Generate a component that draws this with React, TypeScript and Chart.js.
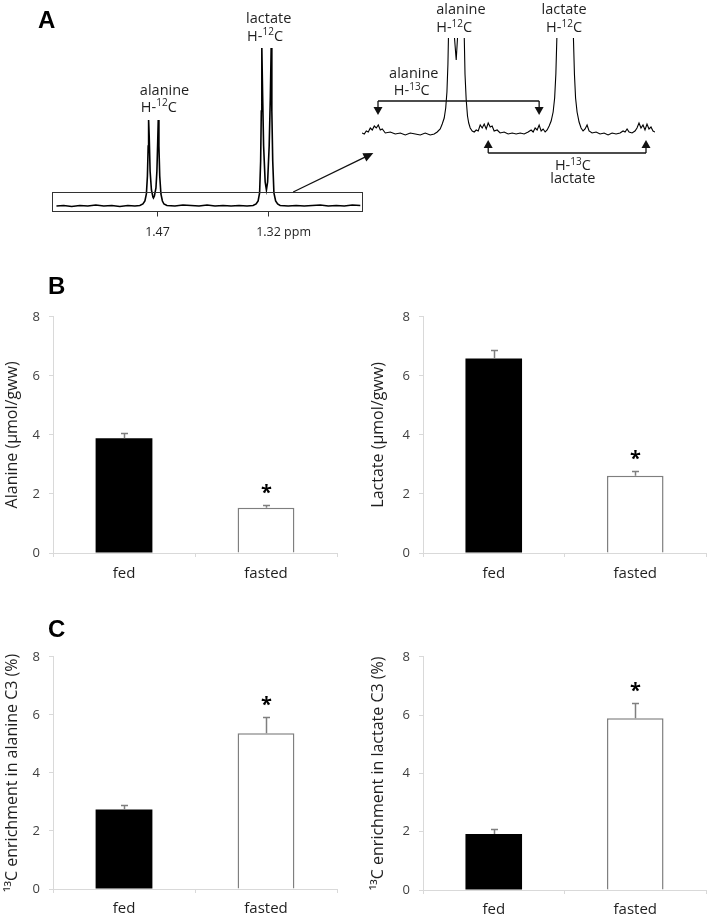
import React, { useEffect, useRef } from "react";
import { Chart, registerables } from "chart.js";

Chart.register(...registerables);

const FONT = "'Open Sans', 'DejaVu Sans', sans-serif";
const TEXT = "#1f1f1f";
const AXIS = "#d9d9d9";
const ERR = "#7f7f7f";

// ---------------- Panel A: 1H NMR spectrum (ppm, intensity) ----------------
const spectrumPpm = [
  1.6051, 1.5953, 1.5845, 1.5736, 1.5628, 1.552, 1.5412, 1.5304, 1.5196, 1.5088, 1.4993, 1.4926,
  1.4885, 1.4858, 1.4838, 1.4824, 1.4814, 1.4808, 1.48, 1.4788, 1.477, 1.475, 1.4743, 1.473,
  1.4709, 1.4696, 1.4685, 1.4678, 1.4669, 1.4658, 1.4642, 1.4622, 1.4601, 1.4561, 1.4453, 1.4345,
  1.4236, 1.4128, 1.402, 1.3912, 1.3804, 1.3696, 1.3588, 1.348, 1.3399, 1.3358, 1.3331, 1.3311,
  1.3297, 1.3288, 1.3281, 1.327, 1.3257, 1.3236, 1.3219, 1.3203, 1.3182, 1.3166, 1.3155, 1.3146,
  1.3134, 1.3118, 1.3095, 1.3068, 1.3034, 1.2926, 1.2818, 1.2709, 1.2601, 1.2493, 1.2385, 1.2277,
  1.2169, 1.2061, 1.1953,
];
const spectrumIntensity = [
  0, 0.5, -0.5, 0.5, 0, 1, 0, 0.5, -0.5, 0.5, 0, 0.5,
  2, 5, 12, 30, 60, 86, 70, 35, 16, 9, 8, 10,
  18, 35, 65, 86, 60, 30, 12, 5, 2, 0.5, 0, 1,
  0.5, 0, 1, 0, 0.5, 0, 0.5, 0, 0.5, 2, 5, 13,
  45, 95, 158, 110, 60, 24, 16, 24, 60, 110, 158, 95,
  45, 13, 5, 2, 0.5, 0, 0.5, 0, 0.5, 1, 0, 0.5,
  0, 1, 0.5,
];

// Vertically expanded region (inset)
const insetPpm = [
  1.6062, 1.603, 1.6002, 1.5974, 1.5946, 1.5918, 1.589, 1.5862, 1.5834, 1.5806, 1.5778, 1.5736,
  1.5666, 1.5596, 1.5526, 1.5456, 1.5386, 1.5316, 1.5246, 1.5177, 1.5107, 1.5051, 1.5009, 1.4967,
  1.4939, 1.4911, 1.489, 1.4873, 1.4859, 1.4848, 1.4834, 1.4807, 1.4788, 1.4767, 1.4743, 1.4725,
  1.4704, 1.4677, 1.4652, 1.4634, 1.462, 1.4603, 1.4585, 1.4568, 1.4547, 1.4519, 1.4491, 1.4463,
  1.4435, 1.4407, 1.4379, 1.4351, 1.4323, 1.4295, 1.4267, 1.424, 1.4212, 1.417, 1.4128, 1.4072,
  1.4016, 1.396, 1.3904, 1.3848, 1.3792, 1.3736, 1.3694, 1.3666, 1.3638, 1.361, 1.3582, 1.3554,
  1.3526, 1.3498, 1.347, 1.3442, 1.3414, 1.3386, 1.3365, 1.3348, 1.3334, 1.3319, 1.3283, 1.3219,
  1.3154, 1.3118, 1.3102, 1.3088, 1.3072, 1.3051, 1.3023, 1.2995, 1.2967, 1.2939, 1.2911, 1.2883,
  1.2841, 1.2785, 1.2729, 1.2673, 1.2617, 1.2561, 1.2505, 1.2449, 1.2407, 1.2379, 1.2351, 1.2323,
  1.2281, 1.224, 1.2212, 1.2184, 1.2156, 1.2128, 1.21, 1.2072, 1.2044, 1.2016, 1.1988, 1.196,
];
const insetIntensity = [
  1, 0, 3, 2, 6, 4, 8, 6, 9, 4, 5, 1,
  2, 0, 1, -1, 1, 0, -1, 1, -1, 0, 2, 5,
  10, 16, 26, 42, 70, 110, 220, 700, 200, 96, 74, 96,
  200, 700, 220, 110, 60, 34, 18, 11, 6, 3, 2, 4,
  3, 9, 6, 10, 5, 11, 7, 8, 3, 4, 1, 2,
  0, 1, 0, 1, 0, 2, 4, 2, 6, 4, 9, 3,
  5, 2, 4, 8, 13, 22, 36, 60, 96, 200, 1400, 144,
  1400, 200, 96, 60, 36, 22, 12, 6, 3, 5, 9, 3,
  1, 2, 0, 1, -1, 1, 0, 1, 3, 2, 5, 2,
  1, 3, 6, 11, 6, 9, 4, 10, 5, 7, 3, 2,
];

const ppmTicks = [1.47, 1.32];
const ppmTickLabels = ["1.47", "1.32"];
const zoomBoxTop = 14; // intensity level of expanded window
const alanine13CSatellitePpm = [1.5838, 1.3582];
const lactate13CSatellitePpm = [1.4295, 1.2086];

// ---------------- Panels B & C: bar data ----------------
const groups = ["fed", "fasted"];
const yTickValues = [0, 2, 4, 6, 8];
const alanineConc = [3.89, 1.53];
const alanineConcSem = [0.19, 0.08];
const lactateConc = [6.59, 2.62];
const lactateConcSem = [0.27, 0.16];
const alanineEnrichment = [2.74, 5.37];
const alanineEnrichmentSem = [0.15, 0.57];
const lactateEnrichment = [1.92, 5.89];
const lactateEnrichmentSem = [0.18, 0.54];
const significant = [false, true];

// ---------------- helpers ----------------
type Seg = { t: string; sup?: boolean };
const H12C: Seg[] = [{ t: "H-" }, { t: "12", sup: true }, { t: "C" }];
const H13C: Seg[] = [{ t: "H-" }, { t: "13", sup: true }, { t: "C" }];

function drawRich(ctx: any, segs: Seg[], x: number, y: number, align: string, size: number) {
  const base = `${size}px ${FONT}`;
  const sup = `${Math.round(size * 0.66)}px ${FONT}`;
  let w = 0;
  segs.forEach((s) => {
    ctx.font = s.sup ? sup : base;
    w += ctx.measureText(s.t).width;
  });
  let cx = align === "center" ? x - w / 2 : align === "right" ? x - w : x;
  ctx.textAlign = "left";
  ctx.textBaseline = "alphabetic";
  segs.forEach((s) => {
    ctx.font = s.sup ? sup : base;
    ctx.fillText(s.t, cx, s.sup ? y - size * 0.36 : y);
    cx += ctx.measureText(s.t).width;
  });
}

function arrow(ctx: any, x0: number, y0: number, x1: number, y1: number, head = 8, half = 4) {
  const a = Math.atan2(y1 - y0, x1 - x0);
  const c = Math.cos(a), s = Math.sin(a);
  ctx.beginPath();
  ctx.moveTo(x0, y0);
  ctx.lineTo(x1 - head * 0.7 * c, y1 - head * 0.7 * s);
  ctx.stroke();
  ctx.beginPath();
  ctx.moveTo(x1, y1);
  ctx.lineTo(x1 - head * c + half * s, y1 - head * s - half * c);
  ctx.lineTo(x1 - head * c - half * s, y1 - head * s + half * c);
  ctx.closePath();
  ctx.fill();
}

const LBL = 14.5;

const mainSpectrumPlugin = {
  id: "mainSpectrumAnnotations",
  afterDraw(chart: any) {
    const { ctx, chartArea: a } = chart;
    const xs = chart.scales.x, ys = chart.scales.y;
    ctx.save();
    ctx.strokeStyle = "#333";
    ctx.fillStyle = "#111";
    ctx.lineWidth = 1;
    const top = Math.round(ys.getPixelForValue(zoomBoxTop)) + 0.5;
    const bot = Math.round(a.bottom) + 0.5;
    const l = Math.round(a.left) + 0.5, r = Math.round(a.right) + 0.5;
    ctx.strokeRect(l, top, r - l, bot - top);
    ppmTicks.forEach((t, i) => {
      const px = Math.round(xs.getPixelForValue(t)) + 0.5;
      ctx.beginPath();
      ctx.moveTo(px, bot);
      ctx.lineTo(px, bot + 5);
      ctx.stroke();
      ctx.font = `12.5px ${FONT}`;
      ctx.fillStyle = TEXT;
      ctx.textBaseline = "alphabetic";
      ctx.textAlign = "left";
      const lbl = ppmTickLabels[i];
      const w = ctx.measureText(lbl).width;
      ctx.fillText(lbl + (i === ppmTicks.length - 1 ? " ppm" : ""), px - w / 2, bot + 24);
    });
    // peak labels
    ctx.fillStyle = TEXT;
    const ax = xs.getPixelForValue(1.4926);
    drawRich(ctx, [{ t: "alanine" }], ax, ys.getPixelForValue(111), "left", LBL);
    drawRich(ctx, H12C, ax + 1, ys.getPixelForValue(94.5), "left", LBL);
    const lx = xs.getPixelForValue(1.3493);
    drawRich(ctx, [{ t: "lactate" }], lx, ys.getPixelForValue(183), "left", LBL);
    drawRich(ctx, H12C, lx + 1, ys.getPixelForValue(165.5), "left", LBL);
    // arrow to the expanded view
    ctx.strokeStyle = "#111";
    ctx.fillStyle = "#111";
    ctx.lineWidth = 1.3;
    arrow(ctx, xs.getPixelForValue(1.2858), ys.getPixelForValue(zoomBoxTop), xs.getPixelForValue(1.1777), ys.getPixelForValue(53), 10, 4.5);
    ctx.restore();
  },
};

const insetPlugin = {
  id: "insetAnnotations",
  afterDraw(chart: any) {
    const { ctx } = chart;
    const xs = chart.scales.x, ys = chart.scales.y;
    ctx.save();
    ctx.strokeStyle = "#111";
    ctx.fillStyle = "#111";
    ctx.lineWidth = 1.3;
    // alanine 13C satellites bracket (arrows down)
    const ay = ys.getPixelForValue(33);
    const a0 = xs.getPixelForValue(alanine13CSatellitePpm[0]);
    const a1 = xs.getPixelForValue(alanine13CSatellitePpm[1]);
    ctx.beginPath();
    ctx.moveTo(a0, ay);
    ctx.lineTo(a1, ay);
    ctx.stroke();
    arrow(ctx, a0, ay, a0, ys.getPixelForValue(19), 8, 4.5);
    arrow(ctx, a1, ay, a1, ys.getPixelForValue(19), 8, 4.5);
    // lactate 13C satellites bracket (arrows up)
    const ly = ys.getPixelForValue(-19);
    const l0 = xs.getPixelForValue(lactate13CSatellitePpm[0]);
    const l1 = xs.getPixelForValue(lactate13CSatellitePpm[1]);
    ctx.beginPath();
    ctx.moveTo(l0, ly);
    ctx.lineTo(l1, ly);
    ctx.stroke();
    arrow(ctx, l0, ly, l0, ys.getPixelForValue(-6), 8, 4.5);
    arrow(ctx, l1, ly, l1, ys.getPixelForValue(-6), 8, 4.5);
    // labels
    ctx.fillStyle = TEXT;
    const alX = xs.getPixelForValue(1.5023);
    drawRich(ctx, [{ t: "alanine" }], alX, ys.getPixelForValue(120), "left", LBL);
    drawRich(ctx, H12C, alX, ys.getPixelForValue(102), "left", LBL);
    const lcX = xs.getPixelForValue(1.3233);
    drawRich(ctx, [{ t: "lactate" }], lcX, ys.getPixelForValue(120), "center", LBL);
    drawRich(ctx, H12C, lcX, ys.getPixelForValue(102), "center", LBL);
    const a13X = xs.getPixelForValue(1.5337);
    drawRich(ctx, [{ t: "alanine" }], a13X, ys.getPixelForValue(56.5), "center", LBL);
    drawRich(ctx, H13C, a13X - 2, ys.getPixelForValue(39), "center", LBL);
    const l13X = xs.getPixelForValue(1.311);
    drawRich(ctx, H13C, l13X, ys.getPixelForValue(-36), "center", LBL);
    drawRich(ctx, [{ t: "lactate" }], l13X, ys.getPixelForValue(-49), "center", LBL);
    ctx.restore();
  },
};

const errorBarPlugin = {
  id: "semBars",
  afterDatasetsDraw(chart: any, _args: any, opts: any) {
    const { ctx } = chart;
    const ys = chart.scales.y;
    const meta = chart.getDatasetMeta(0);
    const values = chart.data.datasets[0].data;
    ctx.save();
    meta.data.forEach((bar: any, i: number) => {
      const v = values[i];
      const e = opts.errors[i];
      const x = Math.round(bar.x) + 0.5;
      const y0 = ys.getPixelForValue(v);
      const y1 = Math.round(ys.getPixelForValue(v + e)) + 0.5;
      ctx.strokeStyle = ERR;
      ctx.lineWidth = 1.5;
      ctx.beginPath();
      ctx.moveTo(x, y0);
      ctx.lineTo(x, y1);
      ctx.moveTo(x - 3.5, y1);
      ctx.lineTo(x + 3.5, y1);
      ctx.stroke();
      if (opts.sig[i]) {
        ctx.fillStyle = "#000";
        ctx.font = `bold 20px ${FONT}`;
        ctx.textAlign = "center";
        ctx.textBaseline = "alphabetic";
        ctx.fillText("*", x, y1 - 17.5 + 11);
      }
    });
    ctx.restore();
  },
};

function SpectrumMain() {
  const ref = useRef<HTMLCanvasElement>(null);
  useEffect(() => {
    const chart = new Chart(ref.current as any, {
      type: "line",
      data: {
        datasets: [
          {
            data: spectrumPpm.map((p, i) => ({ x: p, y: spectrumIntensity[i] })),
            borderColor: "#000",
            borderWidth: 1.6,
            pointRadius: 0,
            tension: 0,
            fill: false,
          },
        ],
      },
      options: {
        responsive: false,
        animation: false,
        events: [],
        layout: { padding: { left: 52, right: 18, top: 40, bottom: 29 } },
        plugins: { legend: { display: false }, tooltip: { enabled: false } },
        scales: {
          x: { type: "linear", reverse: true, min: 1.193, max: 1.6111, display: false },
          y: { type: "linear", min: -5, max: 166, display: false },
        },
      },
      plugins: [mainSpectrumPlugin],
    } as any);
    return () => chart.destroy();
  }, []);
  return <canvas ref={ref} width={380} height={240} style={{ position: "absolute", left: 0, top: 0 }} />;
}

function SpectrumInset() {
  const ref = useRef<HTMLCanvasElement>(null);
  useEffect(() => {
    const chart = new Chart(ref.current as any, {
      type: "line",
      data: {
        datasets: [
          {
            data: insetPpm.map((p, i) => ({ x: p, y: insetIntensity[i] })),
            borderColor: "#000",
            borderWidth: 1.1,
            pointRadius: 0,
            tension: 0,
            fill: false,
          },
        ],
      },
      options: {
        responsive: false,
        animation: false,
        events: [],
        layout: { padding: { left: 7, right: 20, top: 38, bottom: 58 } },
        plugins: { legend: { display: false }, tooltip: { enabled: false } },
        scales: {
          x: { type: "linear", reverse: true, min: 1.196, max: 1.6062, display: false },
          y: { type: "linear", min: -8, max: 96, display: false },
        },
      },
      plugins: [insetPlugin],
    } as any);
    return () => chart.destroy();
  }, []);
  return <canvas ref={ref} width={320} height={200} style={{ position: "absolute", left: 355, top: 0 }} />;
}

type BarProps = {
  left: number;
  top: number;
  width: number;
  height: number;
  area: { left: number; top: number; right: number; bottom: number };
  values: number[];
  errors: number[];
  title: string;
  titlePad: number;
  labelPad: number;
};

function BarPanel(p: BarProps) {
  const ref = useRef<HTMLCanvasElement>(null);
  useEffect(() => {
    const yWidth = p.area.left - p.left;
    const xHeight = p.top + p.height - p.area.bottom;
    const chart = new Chart(ref.current as any, {
      type: "bar",
      data: {
        labels: groups,
        datasets: [
          {
            data: p.values,
            backgroundColor: ["#000000", "#ffffff"],
            borderColor: ["#000000", ERR],
            borderWidth: [0, 1.5],
            barPercentage: 0.4,
            categoryPercentage: 1,
          },
        ],
      },
      options: {
        responsive: false,
        animation: false,
        events: [],
        layout: {
          padding: { left: 0, bottom: 0, top: p.area.top - p.top, right: p.left + p.width - p.area.right },
        },
        plugins: {
          legend: { display: false },
          tooltip: { enabled: false },
          semBars: { errors: p.errors, sig: significant },
        },
        scales: {
          x: {
            type: "category",
            offset: true,
            grid: { display: true, drawOnChartArea: false, offset: true, tickLength: 4, color: AXIS },
            border: { display: true, color: AXIS, width: 1 },
            ticks: { font: { family: FONT, size: 15 }, color: TEXT, padding: p.labelPad },
            afterFit: (s: any) => {
              s.height = xHeight;
            },
          },
          y: {
            type: "linear",
            min: 0,
            max: 8,
            afterBuildTicks: (s: any) => {
              s.ticks = yTickValues.map((v) => ({ value: v }));
            },
            ticks: { font: { family: FONT, size: 13 }, color: "#404040", padding: 9 },
            grid: { display: true, drawOnChartArea: false, tickLength: 4, color: AXIS },
            border: { display: true, color: AXIS, width: 1 },
            title: {
              display: true,
              text: p.title,
              font: { family: FONT, size: 16 },
              color: TEXT,
              padding: { top: p.titlePad, bottom: 0 },
            },
            afterFit: (s: any) => {
              s.width = yWidth;
            },
          },
        },
      },
      plugins: [errorBarPlugin],
    } as any);
    return () => chart.destroy();
  }, []);
  return (
    <canvas
      ref={ref}
      width={p.width}
      height={p.height}
      style={{ position: "absolute", left: p.left, top: p.top }}
    />
  );
}

const letterStyle: any = {
  position: "absolute",
  font: "bold 24px 'Liberation Sans', Arial, sans-serif",
  lineHeight: "24px",
  color: "#000",
  margin: 0,
};

export default function App() {
  return (
    <div style={{ position: "absolute", left: 0, top: 0, width: 709, height: 918, background: "#fff", overflow: "hidden" }}>
      <SpectrumMain />
      <SpectrumInset />
      <BarPanel
        left={0}
        top={300}
        width={350}
        height={290}
        area={{ left: 53, top: 313, right: 337, bottom: 553 }}
        values={alanineConc}
        errors={alanineConcSem}
        title="Alanine (µmol/gww)"
        titlePad={2.5}
        labelPad={8}
      />
      <BarPanel
        left={360}
        top={300}
        width={349}
        height={290}
        area={{ left: 423, top: 315, right: 706, bottom: 553 }}
        values={lactateConc}
        errors={lactateConcSem}
        title="Lactate (µmol/gww)"
        titlePad={9}
        labelPad={8}
      />
      <BarPanel
        left={0}
        top={640}
        width={350}
        height={278}
        area={{ left: 53, top: 651, right: 337, bottom: 889 }}
        values={alanineEnrichment}
        errors={alanineEnrichmentSem}
        title="¹³C enrichment in alanine C3 (%)"
        titlePad={2.5}
        labelPad={7}
      />
      <BarPanel
        left={360}
        top={640}
        width={349}
        height={278}
        area={{ left: 423, top: 651, right: 706, bottom: 890 }}
        values={lactateEnrichment}
        errors={lactateEnrichmentSem}
        title="¹³C enrichment in lactate C3 (%)"
        titlePad={9}
        labelPad={7}
      />
      <div style={{ ...letterStyle, left: 38, top: 8 }}>A</div>
      <div style={{ ...letterStyle, left: 48, top: 274 }}>B</div>
      <div style={{ ...letterStyle, left: 48, top: 617 }}>C</div>
    </div>
  );
}
